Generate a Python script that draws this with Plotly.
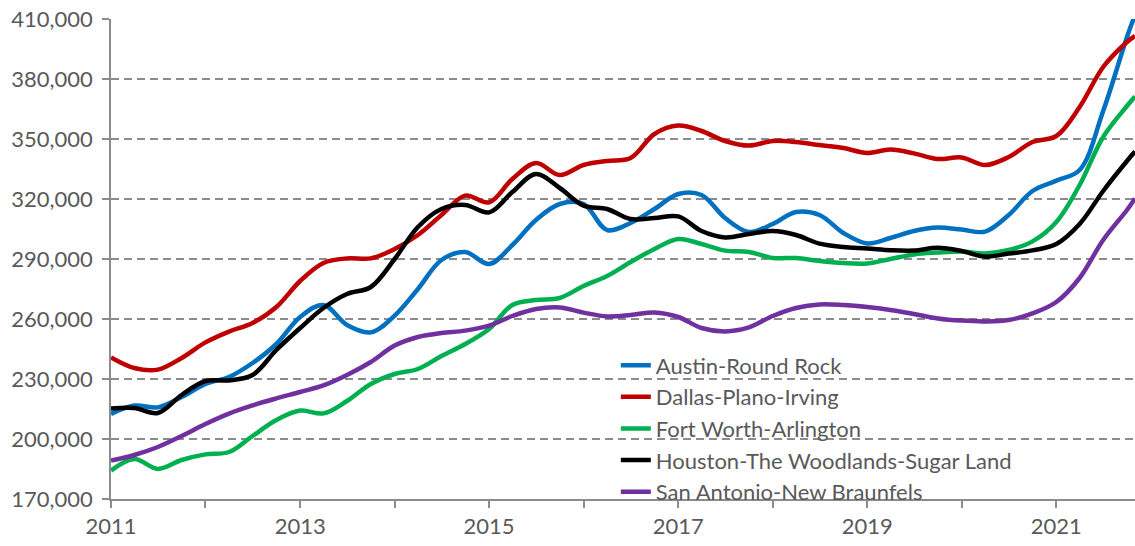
import plotly.graph_objects as go

# Trimestres 2011-01 .. 2021-10 y el último mes (2021-11)
fechas = [f"{a}-{m:02d}-01" for a in range(2011, 2022) for m in (1, 4, 7, 10)] + ["2021-11-01"]

austin = [212.5, 216.7, 215.8, 221.0, 227.5, 231.0, 238.0, 247.5, 261.0, 267.0, 257.0, 253.3,
          261.7, 275.0, 289.5, 293.5, 287.5, 297.0, 309.5, 317.5, 317.5, 304.5, 308.0, 315.0,
          322.5, 322.0, 310.5, 303.5, 307.5, 313.5, 312.0, 303.0, 297.8, 300.5, 304.0, 305.7,
          304.7, 303.7, 312.0, 324.0, 329.2, 334.5, 364.0, 401.0, 412.0]
dallas = [240.8, 235.5, 234.7, 240.5, 248.3, 253.7, 258.0, 266.0, 279.0, 288.0, 290.3, 290.3,
          295.0, 302.0, 312.0, 321.7, 318.3, 330.0, 338.0, 332.0, 337.0, 339.0, 340.5, 352.5,
          356.7, 354.0, 349.0, 346.7, 349.0, 348.5, 347.0, 345.5, 343.0, 344.7, 342.8, 340.0,
          340.8, 337.0, 341.0, 348.5, 351.5, 366.0, 386.0, 398.5, 401.5]
fort_worth = [184.2, 190.0, 185.0, 189.5, 192.3, 193.5, 201.5, 209.5, 214.2, 212.8, 219.0, 227.5,
              232.5, 235.0, 241.5, 247.5, 255.0, 267.0, 269.5, 270.5, 276.5, 281.5, 288.5, 295.0,
              300.0, 297.5, 294.2, 293.5, 290.5, 290.5, 289.0, 288.0, 287.8, 290.0, 292.3, 293.2,
              293.7, 292.8, 294.5, 298.8, 308.5, 327.0, 351.0, 366.5, 371.2]
houston = [215.3, 215.5, 213.0, 222.0, 229.0, 229.3, 232.0, 244.5, 255.5, 265.5, 272.5, 276.0,
           290.0, 306.0, 315.0, 317.0, 313.3, 323.5, 332.5, 325.5, 316.7, 315.0, 310.0, 310.5,
           311.3, 304.0, 300.8, 302.5, 304.0, 302.0, 297.7, 296.0, 295.3, 294.4, 294.2, 295.6,
           294.0, 291.2, 292.7, 294.3, 297.5, 307.5, 324.0, 339.0, 343.7]
san_antonio = [189.2, 192.0, 196.0, 201.5, 207.5, 212.7, 216.8, 220.3, 223.5, 226.8, 232.0, 238.5,
               246.7, 251.0, 253.0, 254.2, 256.7, 261.5, 265.0, 265.8, 263.2, 261.3, 262.0, 263.3,
               261.0, 255.5, 253.8, 255.8, 261.5, 265.5, 267.3, 267.0, 266.0, 264.5, 262.5, 260.3,
               259.2, 258.8, 259.5, 262.8, 268.5, 280.5, 299.5, 314.5, 320.3]

nombres = ["Austin-Round Rock", "Dallas-Plano-Irving", "Fort Worth-Arlington",
           "Houston-The Woodlands-Sugar Land", "San Antonio-New Braunfels"]
series = [austin, dallas, fort_worth, houston, san_antonio]
colores = ["#0070C0", "#C00000", "#00B050", "#000000", "#7030A0"]

gris = "#8C8C8C"
texto = "#595959"

fig = go.Figure()
for nombre, valores, color in zip(nombres, series, colores):
    fig.add_trace(go.Scatter(x=fechas, y=[v * 1000 for v in valores], name=nombre,
                             mode="lines", line=dict(color=color, width=4.5, shape="spline", smoothing=1)))

fig.update_layout(
    width=1135, height=546,
    margin=dict(l=111, r=0, t=19, b=47),
    plot_bgcolor="white", paper_bgcolor="white",
    font=dict(family="Lato", size=22, color=texto),
    showlegend=True,
    legend=dict(x=0.493, y=0.322, xanchor="left", yanchor="top", bgcolor="rgba(0,0,0,0)",
                font=dict(size=22, color=texto)),
)

fig.update_xaxes(
    type="date", range=["2011-01-01", "2021-11-01"], automargin=False,
    tick0="2011-01-01", dtick="M24", tickformat="%Y",
    ticks="outside", ticklen=7, tickcolor=gris, tickwidth=1.5,
    minor=dict(dtick="M12", ticks="outside", ticklen=7, tickcolor=gris, tickwidth=1.5, showgrid=False),
    showgrid=False, showline=True, linecolor=gris, linewidth=1.5,
)
fig.update_yaxes(
    range=[170000, 410000], tick0=170000, dtick=30000, tickformat=",", automargin=False,
    ticks="outside", ticklen=7, tickcolor=gris, tickwidth=1.5, ticklabelstandoff=5,
    showgrid=True, gridcolor=gris, gridwidth=1.5, griddash="8px,5px",
    showline=True, linecolor=gris, linewidth=1.5, zeroline=False,
)

# quitar el margen del body y la barra de herramientas
fig.write_html("out.html", config={"displayModeBar": False},
               post_script="document.body.style.margin='0';")
